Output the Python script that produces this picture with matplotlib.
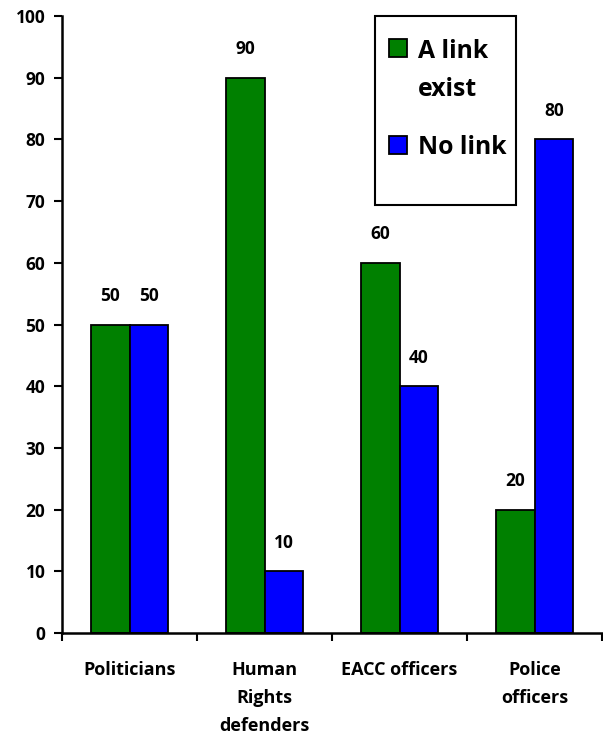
import matplotlib
matplotlib.use("Agg")
import matplotlib.pyplot as plt
import numpy as np
from matplotlib.ticker import FixedLocator, MultipleLocator
from matplotlib.patches import Rectangle

plt.rcParams['font.family'] = ['Open Sans', 'DejaVu Sans']
plt.rcParams['font.weight'] = 'bold'

categories = ["Politicians", "Human\nRights\ndefenders", "EACC officers", "Police\nofficers"]
link_exist = [50, 90, 60, 20]
no_link = [50, 10, 40, 80]
series_names = ["A link\nexist", "No link"]
colors = ["#008000", "#0000FF"]

W, H = 603, 736
fig = plt.figure(figsize=(W/100, H/100), dpi=100)
ax = fig.add_axes([62/W, 1-633/H, 540/W, 617/H])

x = np.arange(len(categories))
w = 1/3.5
b1 = ax.bar(x - w/2, link_exist, w, color=colors[0], edgecolor='black', linewidth=1.3, label=series_names[0])
b2 = ax.bar(x + w/2, no_link, w, color=colors[1], edgecolor='black', linewidth=1.3, label=series_names[1])

for bars, vals in ((b1, link_exist), (b2, no_link)):
    for r, v in zip(bars, vals):
        ax.annotate(str(v), (r.get_x() + r.get_width()/2, v), xytext=(0, 14),
                    textcoords='offset points', ha='center', va='bottom',
                    fontsize=12.5, fontweight='bold')

ax.set_xlim(-0.5, len(categories) - 0.5)
ax.set_ylim(0, 100)
ax.yaxis.set_major_locator(MultipleLocator(10))
ax.set_xticks(x)
ax.set_xticklabels(categories, fontsize=13, fontweight='bold', linespacing=1.72)
ax.xaxis.set_minor_locator(FixedLocator(np.arange(len(categories) + 1) - 0.5))
ax.tick_params(axis='x', which='major', length=0, pad=20)
ax.tick_params(axis='x', which='minor', length=6, width=1.5, direction='out')
ax.tick_params(axis='y', length=6, width=1.5, direction='out', labelsize=12.5, pad=6)
for lab in ax.get_yticklabels():
    lab.set_fontweight('bold')
for lab in ax.get_xticklabels():
    lab.set_va('top')

for s in ('top', 'right'):
    ax.spines[s].set_visible(False)
for s in ('left', 'bottom'):
    ax.spines[s].set_linewidth(1.8)

# legend drawn manually (handle aligned with first text line)
def fx(px):
    return px / W
def fy(py):
    return 1 - py / H

fig.patches.append(Rectangle((fx(375), fy(205)), fx(516) - fx(375), fy(16) - fy(205),
                             transform=fig.transFigure, facecolor='white',
                             edgecolor='black', linewidth=1.5, zorder=5))
entries = [(series_names[0], colors[0], 39, 58), (series_names[1], colors[1], 136, 154)]
for lab, col, sq_top, base in entries:
    fig.patches.append(Rectangle((fx(389), fy(sq_top + 18)), fx(18), 18 / H,
                                 transform=fig.transFigure, facecolor=col,
                                 edgecolor='black', linewidth=1.3, zorder=6))
    lines = lab.split("\n")
    for i, ln in enumerate(lines):
        fig.text(fx(418), fy(base + 38 * i), ln, fontsize=17.8, fontweight='bold',
                 ha='left', va='baseline', zorder=7)

fig.savefig("out.png", dpi=100)
